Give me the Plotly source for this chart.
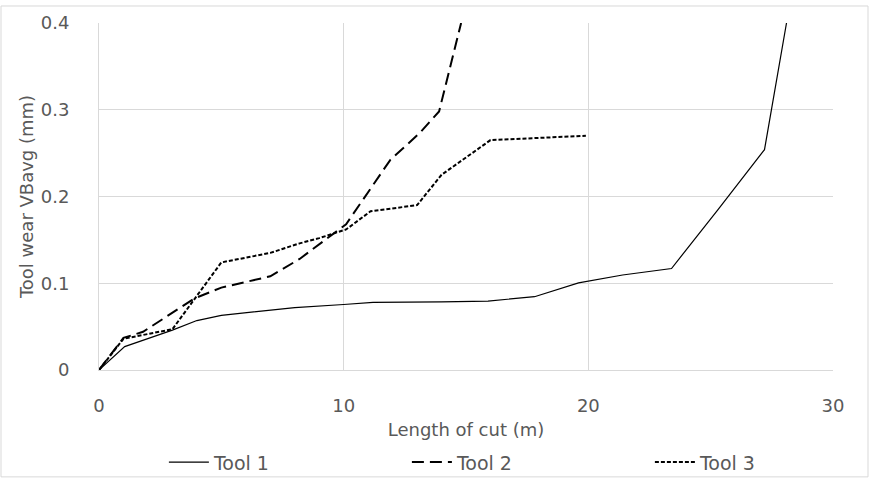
import plotly.graph_objects as go

# Data
tool1_x = [0, 1.05, 3.0, 4.0, 5.0, 7.0, 8.0, 10.0, 11.2, 14.0, 15.9, 17.8, 19.6, 21.4, 23.4, 25.3, 27.2, 28.1]
tool1_y = [0, 0.027, 0.046, 0.057, 0.063, 0.069, 0.072, 0.0755, 0.078, 0.0785, 0.0795, 0.0845, 0.1005, 0.1095, 0.117, 0.185, 0.254, 0.40]

tool2_x = [0, 1.0, 1.8, 3.9, 5.0, 7.0, 8.2, 10.1, 11.9, 13.1, 13.9, 14.8]
tool2_y = [0, 0.037, 0.044, 0.0825, 0.095, 0.108, 0.128, 0.168, 0.242, 0.273, 0.298, 0.40]

tool3_x = [0, 1.0, 3.0, 5.0, 7.0, 8.2, 9.0, 10.1, 11.1, 13.0, 14.0, 16.0, 19.9]
tool3_y = [0, 0.036, 0.047, 0.124, 0.135, 0.146, 0.152, 0.162, 0.183, 0.19, 0.225, 0.265, 0.27]

x_ticks = [0, 10, 20, 30]
y_ticks = [0, 0.1, 0.2, 0.3, 0.4]
y_tick_text = ["0", "0.1", "0.2", "0.3", "0.4"]

FONT = "DejaVu Sans"
GRAY = "#595959"
GRID = "#d9d9d9"
FS = 18

fig = go.Figure()
fig.add_trace(go.Scatter(x=tool1_x, y=tool1_y, mode="lines", name="Tool 1",
                         line=dict(color="#000000", width=1.2)))
fig.add_trace(go.Scatter(x=tool2_x, y=tool2_y, mode="lines", name="Tool 2",
                         line=dict(color="#000000", width=2, dash="12px,6px")))
fig.add_trace(go.Scatter(x=tool3_x, y=tool3_y, mode="lines", name="Tool 3",
                         line=dict(color="#000000", width=2, dash="4px,2px")))

fig.update_layout(
    width=871, height=479,
    margin=dict(l=99, r=38, t=23, b=109, autoexpand=False),
    paper_bgcolor="white", plot_bgcolor="white",
    font=dict(family=FONT, size=FS, color=GRAY),
    showlegend=True,
    legend=dict(orientation="h", x=0.585, xanchor="center",
                yref="container", y=0.035, yanchor="middle",
                font=dict(family=FONT, size=19, color=GRAY),
                entrywidth=188, itemwidth=40, bgcolor="rgba(0,0,0,0)"),
    xaxis=dict(range=[0, 30], tickvals=x_ticks, showgrid=True, gridcolor=GRID, gridwidth=1,
               zeroline=False, showline=True, linecolor=GRID, linewidth=1, mirror=False,
               ticks="", tickfont=dict(family=FONT, size=FS, color=GRAY),
               ticklabelstandoff=19,
               title=dict(text="Length of cut (m)", font=dict(family=FONT, size=FS, color=GRAY),
                          standoff=8)),
    yaxis=dict(range=[0, 0.4], tickvals=y_ticks, ticktext=y_tick_text, showgrid=True,
               gridcolor=GRID, gridwidth=1, zeroline=False, showline=True, linecolor=GRID,
               linewidth=1, ticks="", tickfont=dict(family=FONT, size=FS, color=GRAY),
               ticklabelstandoff=25,
               title=dict(text="Tool wear VBavg (mm)", font=dict(family=FONT, size=FS, color=GRAY),
                          standoff=2)),
    shapes=[dict(type="rect", xref="paper", yref="paper",
                 x0=-0.1335, x1=1.0477, y0=-0.308, y1=1.049,
                 line=dict(color=GRID, width=1), fillcolor="rgba(0,0,0,0)", layer="below")],
)

fig.write_html("out.html")
